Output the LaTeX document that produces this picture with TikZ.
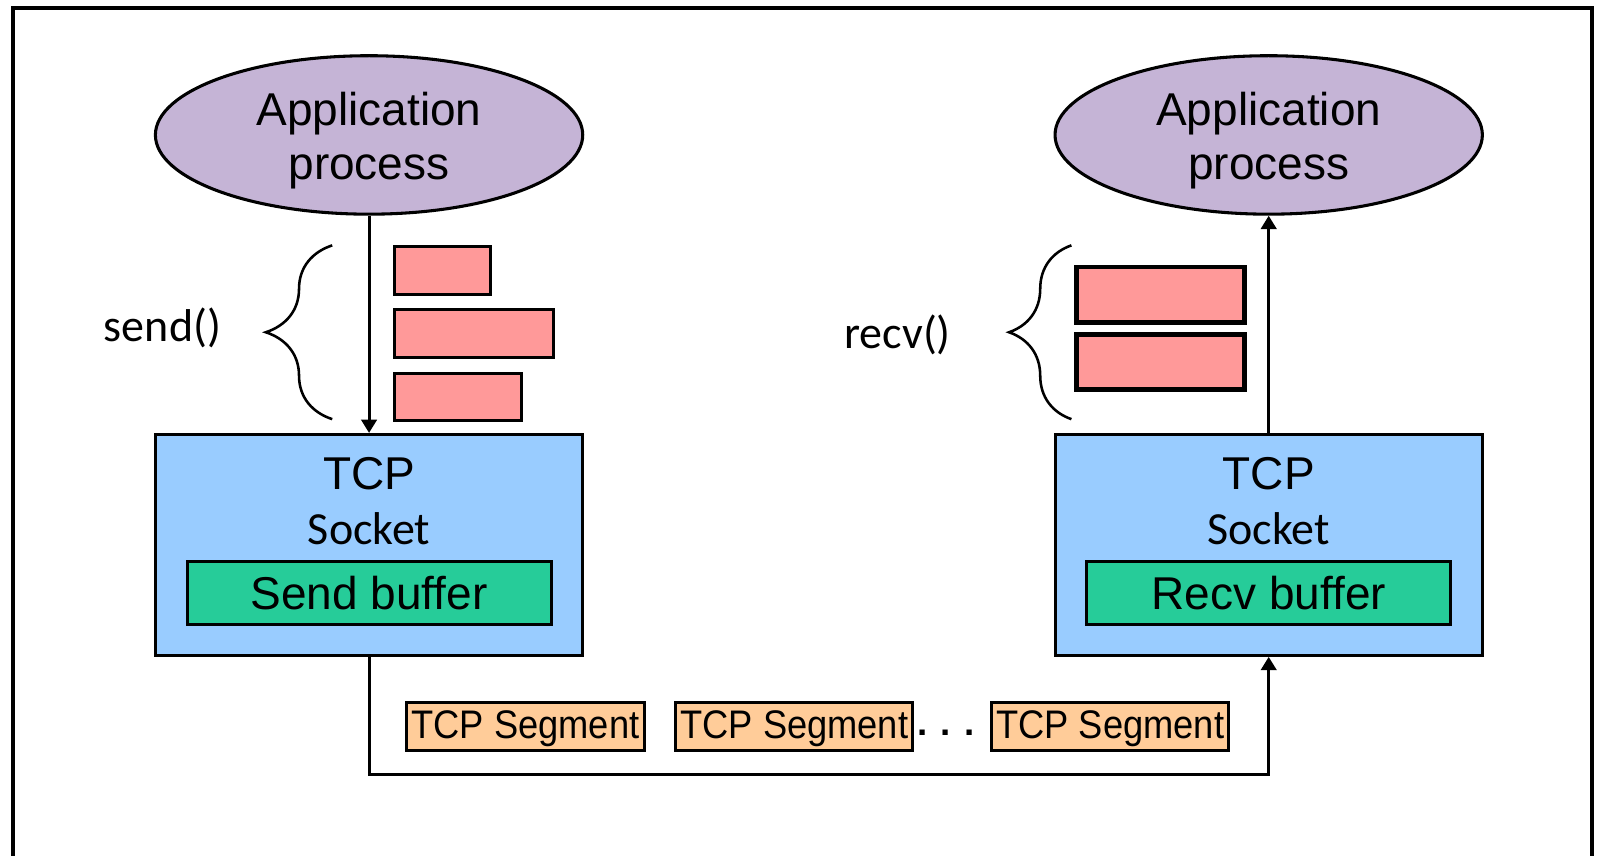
\documentclass[tikz,border=0pt]{standalone}
\usepackage{fontspec}
\setmainfont{Liberation Sans}
\newfontfamily\calibri{Carlito}
\usetikzlibrary{arrows.meta, shapes.geometric, decorations.pathreplacing}

\definecolor{appcol}{RGB}{197,180,214}
\definecolor{sockcol}{RGB}{153,204,255}
\definecolor{bufcol}{RGB}{38,204,153}
\definecolor{datacol}{RGB}{255,153,153}
\definecolor{segcol}{RGB}{255,204,153}

\tikzset{
  app/.style={ellipse, draw, line width=3pt, fill=appcol, minimum width=418pt, minimum height=155pt, align=center, inner sep=0pt, text height=97pt, font=\fontsize{45}{53}\selectfont},
  sock/.style={rectangle, draw, line width=3pt, fill=sockcol, minimum width=418pt, minimum height=216pt},
  buf/.style={rectangle, draw, line width=3pt, fill=bufcol, minimum width=356pt, minimum height=61pt, inner sep=0pt, font=\fontsize{45}{50}\selectfont},
  chunk/.style={rectangle, draw, fill=datacol, anchor=north west, inner sep=0pt},
  seg/.style={rectangle, draw, line width=3pt, fill=segcol, minimum width=232pt, minimum height=47pt, inner sep=0pt, text depth=5pt, font=\fontsize{39}{44}\selectfont},
  arr/.style={line width=3pt, -{Triangle[length=13pt,width=15pt]}},
  lbl/.style={font=\calibri\fontsize{45}{50}\selectfont},
  curly/.style={decorate, decoration={brace, amplitude=#1}, line width=2.5pt}
}

\begin{document}
\begin{tikzpicture}[x=1pt, y=-1pt]
\useasboundingbox (0,0) rectangle (1568,837);

%Frame
\draw[line width=4pt] (13,850) -- (13,8) -- (1557,8) -- (1557,850);

%Sender side
\node[app] (lapp) at (361,132) {Application\\process};
\node[sock] (lsock) at (361,533) {};
\node (ltcp) at (361,463) {\fontsize{45}{50}\selectfont TCP};
\node[lbl] (lsocket) at (361,517) {Socket};
\node[buf] (lbuf) at (361,580) {Send buffer};
\draw[arr] (lapp.south) -- (lsock.north);

%Data handed to send()
\node[chunk, line width=3pt, minimum width=94pt, minimum height=47pt] (ld1) at (384,240) {};
\node[chunk, line width=3pt, minimum width=156pt, minimum height=47pt] (ld2) at (384,301) {};
\node[chunk, line width=3pt, minimum width=125pt, minimum height=46pt] (ld3) at (384,364) {};
\draw[curly=65pt] (325,410) -- (325,240);
\node[lbl] (send) at (159,321) {send()};

%Receiver side
\node[app] (rapp) at (1241,132) {Application\\process};
\node[sock] (rsock) at (1241,533) {};
\node (rtcp) at (1241,463) {\fontsize{45}{50}\selectfont TCP};
\node[lbl] (rsocket) at (1241,517) {Socket};
\node[buf] (rbuf) at (1241,580) {Recv buffer};
\draw[arr] (rsock.north) -- (rapp.south);

%Data returned by recv()
\node[chunk, line width=4.5pt, minimum width=164pt, minimum height=54pt] (rd1) at (1051,259) {};
\node[chunk, line width=4.5pt, minimum width=164pt, minimum height=54pt] (rd2) at (1051,325) {};
\draw[curly=61pt] (1048,410) -- (1048,240);
\node[lbl] (recv) at (878,328) {recv()};

%Segments on the wire
\coordinate (bus) at (0,758);
\draw[arr] (lsock.south) -- (lsock.south |- bus) -- (rsock.south |- bus) -- (rsock.south);
\node[seg] (s1) at (514,711) {\scalebox{0.91}[1]{TCP Segment}};
\node[seg] (s2) at (777,711) {\scalebox{0.91}[1]{TCP Segment}};
\node[seg] (s3) at (1086,711) {\scalebox{0.91}[1]{TCP Segment}};
\node[anchor=base, font=\bfseries\fontsize{36}{40}\selectfont] (dots) at (925,719) {.\hspace{13pt}.\hspace{13pt}.};

\end{tikzpicture}
\end{document}
